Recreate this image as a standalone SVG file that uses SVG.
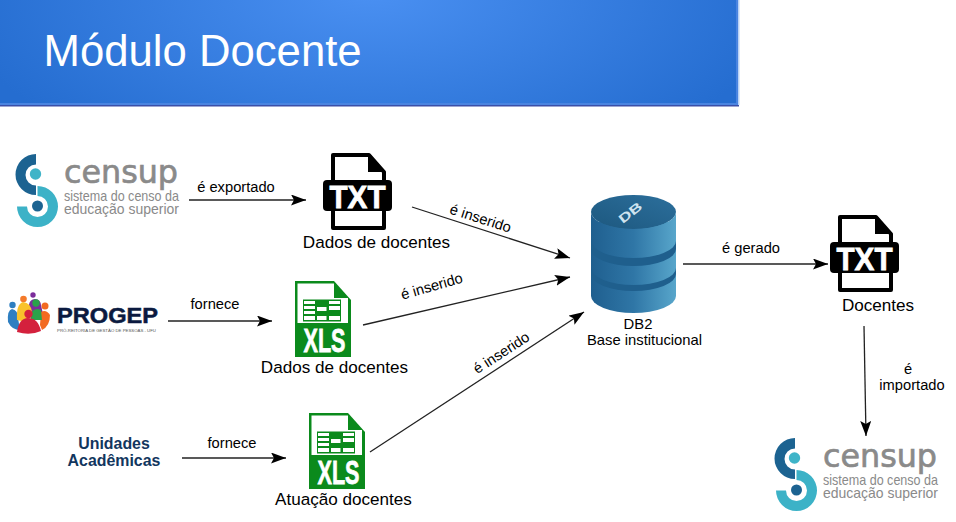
<svg xmlns="http://www.w3.org/2000/svg" width="956" height="522" viewBox="0 0 956 522">
<style>
text{font-family:"Liberation Sans",Arial,sans-serif;fill:#000}
.lbl{font-size:14.700px}
.cap{font-size:17.100px}
.small{font-size:14.800px}
.conn{stroke:#222;stroke-width:1.3;fill:none;marker-end:url(#arr)}
.cs{fill:#8a8a8a}
.heavy{stroke:#fff;stroke-width:.8px}
</style>
<defs>
<marker id="arr" markerUnits="userSpaceOnUse" markerWidth="16" markerHeight="12" refX="15" refY="5.500" orient="auto"><path d="M0 0L15 5.500L0 11L3 5.500Z" fill="#000"/></marker>
<radialGradient id="hdr" gradientUnits="userSpaceOnUse" cx="370" cy="-10" r="420" gradientTransform="translate(0 -3) scale(1 .45)"><stop offset="0" stop-color="#4a90f2"/><stop offset="1" stop-color="#256dd0"/></radialGradient>
<linearGradient id="cyl" x1="0" x2="1" y1="0" y2="0"><stop offset="0" stop-color="#1f5f8f"/><stop offset=".5" stop-color="#2f76a6"/><stop offset="1" stop-color="#58a6cb"/></linearGradient>
<linearGradient id="cyltop" x1="0" x2="1" y1="1" y2="0"><stop offset="0" stop-color="#1d587f"/><stop offset="1" stop-color="#2c6f9c"/></linearGradient>
<g id="censup">
<path d="M36 164.500V154A20.500 20.500 0 0 0 36 195V185.500A10.500 10.500 0 0 1 36 164.500Z" fill="#1c6391"/>
<circle cx="35.500" cy="174" r="5.700" fill="#3fb4c8"/>
<path d="M37.500 186A20.500 20.500 0 1 1 17 206.500H27A10.500 10.500 0 1 0 37.500 196Z" fill="#3cb2c7"/>
<circle cx="37.500" cy="206" r="5.500" fill="#1c6391"/>
<text class="cs" x="64" y="183" style="font-family:'DejaVu Sans',sans-serif;stroke:#8a8a8a;stroke-width:.7px" font-size="32" textLength="114" lengthAdjust="spacingAndGlyphs">censup</text>
<text class="cs" x="64" y="201" font-size="14.500" textLength="115" lengthAdjust="spacingAndGlyphs">sistema do censo da</text>
<text class="cs" x="64" y="213.500" font-size="14.500" textLength="115" lengthAdjust="spacingAndGlyphs">educação superior</text>
</g>
<g id="txt">
<path d="M333 155H369L384 172V228H333Z" fill="#fff" stroke="#000" stroke-width="4" stroke-linejoin="round"/>
<path d="M368 154V172H385L370 154Z" fill="#000"/>
<rect x="323" y="180" width="69" height="31" rx="4" fill="#000"/>
<text class="heavy" x="357.500" y="208" font-size="32" font-weight="700" text-anchor="middle" style="fill:#fff" textLength="56" lengthAdjust="spacingAndGlyphs">TXT</text>
</g>
<g id="xls">
<path d="M295 281H334L351 300V357H295Z" fill="#0b8a1c"/>
<path d="M297.500 283.500H334V298H348V323H297.500Z" fill="#fff"/>
<rect x="303" y="299.500" width="38" height="22" fill="#0b8a1c"/>
<g fill="#fff">
<rect x="304" y="301" width="11" height="3"/><rect x="304" y="306" width="11" height="3"/><rect x="304" y="311" width="11" height="3"/><rect x="304" y="316" width="11" height="4"/>
<rect x="317" y="307" width="9.500" height="4"/><rect x="317" y="316" width="9.500" height="4"/>
<rect x="329" y="301" width="11" height="3"/><rect x="329" y="306" width="11" height="4"/><rect x="329" y="316" width="11" height="4"/>
</g>
<text class="heavy" x="324.500" y="352" font-size="34" font-weight="700" text-anchor="middle" style="fill:#fff" textLength="42" lengthAdjust="spacingAndGlyphs">XLS</text>
</g>
</defs>

<g id="header">
<rect x="0" y="0" width="739" height="106.500" fill="#3b4fa8"/>
<rect x="738" y="0" width="1.500" height="105" fill="#b9d2f5"/>
<rect x="0" y="0" width="738" height="105" fill="#4a84e0"/>
<rect x="0" y="0" width="736" height="103" fill="url(#hdr)"/>
<text x="43.500" y="66" font-size="43.700" style="fill:#fff">Módulo Docente</text>
</g>

<g id="connectors">
<path class="conn" d="M189 200H306"/>
<path class="conn" d="M168 321H272"/>
<path class="conn" d="M182 458H286"/>
<path class="conn" d="M412 207L570 258"/>
<path class="conn" d="M363 325L570 277"/>
<path class="conn" d="M370 452L584 312"/>
<path class="conn" d="M683 264H828"/>
<path class="conn" d="M864 326L866 436"/>
</g>
<g id="connector-labels">
<text class="lbl" x="236" y="192" text-anchor="middle">é exportado</text>
<text class="lbl" x="215" y="309" text-anchor="middle">fornece</text>
<text class="lbl" x="232" y="448" text-anchor="middle">fornece</text>
<text class="lbl" text-anchor="middle" transform="translate(479 223) rotate(18)">é inserido</text>
<text class="lbl" text-anchor="middle" transform="translate(433 291) rotate(-16)">é inserido</text>
<text class="lbl" text-anchor="middle" transform="translate(504 357) rotate(-33)">é inserido</text>
<text class="lbl" x="751" y="253" text-anchor="middle">é gerado</text>
<text class="lbl" x="908" y="374" text-anchor="middle">é</text>
<text class="lbl" x="912" y="390" text-anchor="middle">importado</text>
</g>

<g id="node-censup-1"><use href="#censup"/></g>

<g id="node-progep">
<circle cx="33" cy="295" r="2.700" fill="#7b2d9b"/>
<path d="M29 305A5 5 0 0 1 41 305L43 314H28Z" fill="#7b2d9b"/>
<circle cx="12.500" cy="305" r="3.200" fill="#2f7fc1"/>
<path d="M8 322Q7 310 12 309Q18 310 18 318L20 330Q12 330 8 322Z" fill="#2f7fc1"/>
<circle cx="23.500" cy="299" r="3.300" fill="#f47a2a"/>
<path d="M17 320Q16 304 23 302Q31 303 32 312L26 322Z" fill="#f9c22c"/>
<circle cx="45" cy="306" r="3.500" fill="#f26a21"/>
<path d="M40 325L41 312Q46 309 50 315Q50 326 42 330Z" fill="#f26a21"/>
<circle cx="36" cy="303" r="3.700" fill="#2aa24a"/>
<path d="M30 314Q35 307 41 310L42 320H31Z" fill="#2aa24a"/>
<circle cx="28.500" cy="314" r="4.200" fill="#d4213d"/>
<path d="M17 332Q19 318 28 318Q38 318 41 331Q30 336 17 332Z" fill="#d4213d"/>
<text x="57" y="323" font-size="21.500" font-weight="700" style="fill:#0b1a40;stroke:#0b1a40;stroke-width:.5px" textLength="101" lengthAdjust="spacingAndGlyphs">PROGEP</text>
<text x="57" y="332" font-size="4" style="fill:#555" textLength="99" lengthAdjust="spacingAndGlyphs">PRÓ-REITORIA DE GESTÃO DE PESSOAS -  UFU</text>
</g>

<g id="node-unidades">
<text x="114" y="449" font-size="15.900" font-weight="700" text-anchor="middle" style="fill:#12365e">Unidades</text>
<text x="114" y="466" font-size="15.900" font-weight="700" text-anchor="middle" style="fill:#12365e">Acadêmicas</text>
</g>

<g id="node-txt-1"><use href="#txt"/><text class="cap" x="376.500" y="248" text-anchor="middle">Dados de docentes</text></g>
<g id="node-xls-1"><use href="#xls"/><text class="cap" x="334.500" y="373" text-anchor="middle">Dados de docentes</text></g>
<g id="node-xls-2"><use href="#xls" x="14" y="132"/><text class="cap" x="343.500" y="505" text-anchor="middle">Atuação docentes</text></g>

<g id="node-db">
<path d="M591 222V296A42.500 17 0 0 0 676 296V222Z" fill="url(#cyl)"/>
<path d="M591 249A42.500 17 0 0 0 676 249V241A42.500 17 0 0 1 591 241Z" fill="#1f5f8d"/>
<path d="M591 274A42.500 17 0 0 0 676 274V268A42.500 17 0 0 1 591 268Z" fill="#1f5f8d"/>
<ellipse cx="633.500" cy="212" rx="42.500" ry="17" fill="url(#cyltop)"/>
<path d="M591 212V222A42.500 17 0 0 0 676 222V212A42.500 17 0 0 1 591 212Z" fill="url(#cyl)"/>
<text font-size="18" font-weight="700" text-anchor="middle" style="fill:#cfe3ef" transform="translate(633 216) rotate(-38) scale(1 .7)">DB</text>
<text class="small" x="638" y="329" text-anchor="middle">DB2</text>
<text class="small" x="644.500" y="345" text-anchor="middle">Base institucional</text>
</g>

<g id="node-txt-2"><use href="#txt" x="507" y="62"/><text class="cap" x="878" y="311" text-anchor="middle">Docentes</text></g>
<g id="node-censup-2"><use href="#censup" x="759" y="284"/></g>
</svg>
